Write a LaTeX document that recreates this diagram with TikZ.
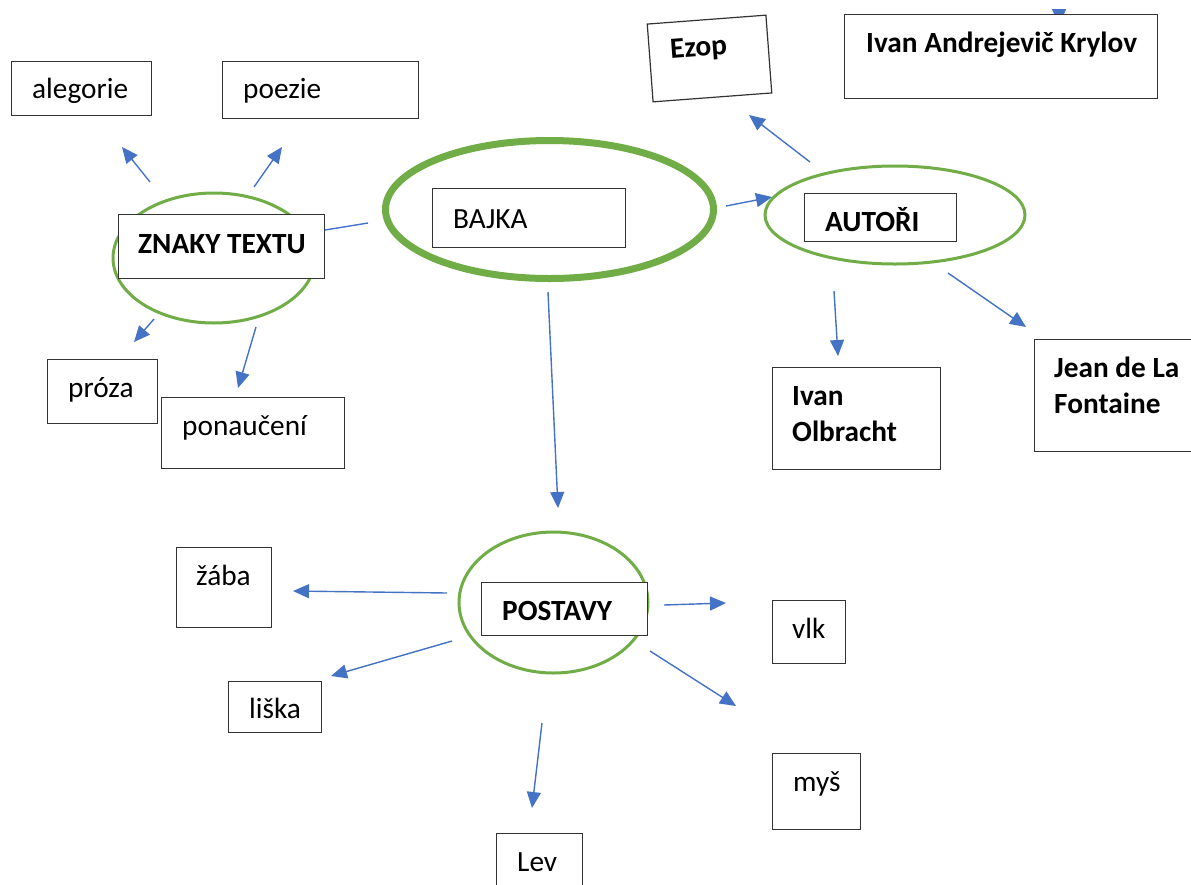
\documentclass[tikz,border=0pt]{standalone}
\usepackage{fontspec}
\setmainfont{Carlito}
\usetikzlibrary{arrows.meta,shapes.geometric}
\definecolor{grn}{HTML}{70AD47}
\definecolor{blu}{HTML}{4472C4}
\begin{document}
\begin{tikzpicture}[x=1pt,y=-1pt,
  box/.style={draw=black!80, line width=1.2pt, fill=white, inner sep=0pt, anchor=north west},
  txt/.style={inner sep=0pt, anchor=base west, font=\fontsize{29.3}{36}\selectfont},
  btxt/.style={inner sep=0pt, anchor=base west, font=\fontsize{29.3}{36}\selectfont\bfseries},
  oval/.style={draw=grn, line width=3pt, ellipse, inner sep=0pt},
  arr/.style={draw=blu, line width=1.4pt, -{Triangle[length=16pt,width=14pt]}},
  ln/.style={draw=blu, line width=1.4pt}]
\useasboundingbox (0,0) rectangle (1191,884);
\fill[white] (0,0) rectangle (1191,884);

% ellipses
\node[oval, line width=7pt, minimum width=328pt, minimum height=138pt] (bajkaE) at (549.5,209.5) {};
\node[oval, minimum width=202pt, minimum height=130pt] (znakyE) at (214,258) {};
\node[oval, minimum width=260pt, minimum height=98pt] (autoriE) at (895,215) {};
\node[oval, minimum width=189pt, minimum height=141pt] (postavyE) at (553.5,602.5) {};

% connector end points
\coordinate (c1a) at (368,223); \coordinate (c1b) at (325,230);
\coordinate (c2a) at (150,182); \coordinate (c2b) at (122,147);
\coordinate (c3a) at (254,187); \coordinate (c3b) at (282,147);
\coordinate (c4a) at (154,319); \coordinate (c4b) at (134,342);
\coordinate (c5a) at (256,327); \coordinate (c5b) at (238,388);
\coordinate (c6a) at (726,206); \coordinate (c6b) at (772,197);
\coordinate (c7a) at (810,162); \coordinate (c7b) at (749,115);
\coordinate (c8a) at (834,291); \coordinate (c8b) at (838,356);
\coordinate (c9a) at (948,273); \coordinate (c9b) at (1026,327);
\coordinate (c10a) at (548,292); \coordinate (c10b) at (558,508);
\coordinate (c11a) at (447,593); \coordinate (c11b) at (293,591);
\coordinate (c12a) at (452,641); \coordinate (c12b) at (331,676);
\coordinate (c13a) at (542,723); \coordinate (c13b) at (532,808);
\coordinate (c14a) at (664,605); \coordinate (c14b) at (726,603);
\coordinate (c15a) at (650,651); \coordinate (c15b) at (736,706);
\coordinate (c16a) at (1059,9); \coordinate (c16b) at (1059,25);

\draw[ln] (c1a) -- (c1b);
\draw[arr] (c2a) -- (c2b);
\draw[arr] (c3a) -- (c3b);
\draw[arr] (c4a) -- (c4b);
\draw[arr] (c5a) -- (c5b);
\draw[arr] (c6a) -- (c6b);
\draw[arr] (c7a) -- (c7b);
\draw[arr] (c8a) -- (c8b);
\draw[arr] (c9a) -- (c9b);
\draw[arr] (c10a) -- (c10b);
\draw[arr] (c11a) -- (c11b);
\draw[arr] (c12a) -- (c12b);
\draw[arr] (c13a) -- (c13b);
\draw[arr] (c14a) -- (c14b);
\draw[arr] (c15a) -- (c15b);
\draw[arr] (c16a) -- (c16b);

% boxes
\node[box, minimum width=140pt, minimum height=54pt] (aleg) at (11,61) {};
\node[txt] (alegT) at (32,98) {alegorie};
\node[box, minimum width=196pt, minimum height=57pt] (poez) at (222,61) {};
\node[txt] (poezT) at (243,98) {poezie};
\node[box, minimum width=206pt, minimum height=64pt] (znaky) at (118,214) {};
\node[btxt] (znakyT) at (138,253) {ZNAKY TEXTU};
\node[box, minimum width=193pt, minimum height=59pt] (bajka) at (432,188) {};
\node[txt] (bajkaT) at (453,228) {BAJKA};
\node[box, minimum width=152pt, minimum height=48pt] (autori) at (804,193) {};
\node[btxt] (autoriT) at (825,231) {AUTOŘI};
\node[box, anchor=center, rotate=4.3, minimum width=119pt, minimum height=78pt] (ezop) at (709.5,58.5) {};
\node[btxt, rotate=4.3] (ezopT) at (670.6,58.3) {Ezop};
\node[box, minimum width=313pt, minimum height=84pt] (krylov) at (844,14) {};
\node[btxt] (krylovT) at (866,52) {Ivan Andrejevič Krylov};
\node[box, minimum width=110pt, minimum height=64pt] (proza) at (47,359) {};
\node[txt] (prozaT) at (68,397) {próza};
\node[box, minimum width=183pt, minimum height=71pt] (ponau) at (161,397) {};
\node[txt] (ponauT) at (182,435) {ponaučení};
\node[box, minimum width=168pt, minimum height=102pt] (olb) at (772,367) {};
\node[btxt, align=left] (olbT) at (792,441) {Ivan\\Olbracht};
\node[box, minimum width=170pt, minimum height=112pt] (font) at (1034,339) {};
\node[btxt, align=left] (fontT) at (1054,413) {Jean de La\\Fontaine};
\node[box, minimum width=166pt, minimum height=53pt] (post) at (481,582) {};
\node[btxt] (postT) at (502,620) {POSTAVY};
\node[box, minimum width=95pt, minimum height=80pt] (zaba) at (176,547) {};
\node[txt] (zabaT) at (196,585) {žába};
\node[box, minimum width=93pt, minimum height=51pt] (liska) at (228,681) {};
\node[txt] (liskaT) at (249,718) {liška};
\node[box, minimum width=86pt, minimum height=60pt] (lev) at (496,833) {};
\node[txt] (levT) at (517,871) {Lev};
\node[box, minimum width=73pt, minimum height=63pt] (vlk) at (772,600) {};
\node[txt] (vlkT) at (792,638) {vlk};
\node[box, minimum width=88pt, minimum height=76pt] (mys) at (772,753) {};
\node[txt] (mysT) at (793,791) {myš};
\end{tikzpicture}
\end{document}
